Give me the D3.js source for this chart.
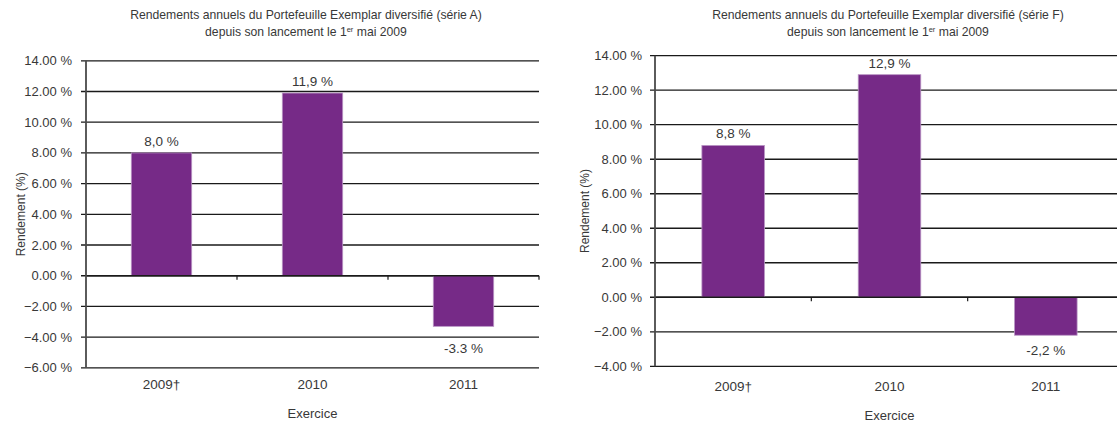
<!DOCTYPE html>
<html>
<head>
<meta charset="utf-8">
<script src="https://cdn.jsdelivr.net/npm/d3@7"></script>
<style>
  html, body { margin: 0; padding: 0; background: #fff; }
  svg { display: block; font-family: "Liberation Sans", Arial, sans-serif; }
</style>
</head>
<body>
<svg id="chart" width="1117" height="423"></svg>
<script>
// ---- data ----
const categories = ["2009\u2020", "2010", "2011"];
const valuesA = [8.0, 11.9, -3.3];
const valuesF = [8.8, 12.9, -2.2];
const labelsA = ["8,0 %", "11,9 %", "-3.3 %"];
const labelsF = ["8,8 %", "12,9 %", "-2,2 %"];
const ticksA = [-6, -4, -2, 0, 2, 4, 6, 8, 10, 12, 14];
const ticksF = [-4, -2, 0, 2, 4, 6, 8, 10, 12, 14];
const titleSeriesA = "Rendements annuels du Portefeuille Exemplar diversifié (série A)";
const titleSeriesF = "Rendements annuels du Portefeuille Exemplar diversifié (série F)";
const xTitle = "Exercice";
const yTitle = "Rendement (%)";

// ---- layout (styles/positions) ----
const BAR = "#762A87";
const BAR_EDGE = "#B994C4";
const GRID = "#1a1a1a";
const TXT = "#383838";

const svg = d3.select("#chart");

function drawChart(cfg) {
  const g = svg.append("g");
  const y = d3.scaleLinear()
    .domain([cfg.ticks[0], cfg.ticks[cfg.ticks.length - 1]])
    .range([cfg.yBottom, cfg.yTop]);
  const x = d3.scaleBand().domain(categories)
    .range([cfg.x0, cfg.x1]).paddingInner(0.6).paddingOuter(0.3);
  const step = x.step();

  // title
  const t = g.append("text")
    .attr("x", cfg.titleX).attr("text-anchor", "middle")
    .attr("font-size", 12.2).attr("fill", TXT);
  t.append("tspan").attr("x", cfg.titleX).attr("y", 19).text(cfg.title);
  const t2 = t.append("tspan").attr("x", cfg.titleX).attr("y", 35.5);
  t2.append("tspan").text("depuis son lancement le 1");
  t2.append("tspan").attr("font-size", 7.5).attr("dy", -4).text("er");
  t2.append("tspan").attr("dy", 4).text(" mai 2009");

  // gridlines with outward ticks
  g.append("g").selectAll("line").data(cfg.ticks).join("line")
    .attr("x1", cfg.x0 - 5).attr("x2", cfg.x1)
    .attr("y1", d => y(d)).attr("y2", d => y(d))
    .attr("stroke", GRID).attr("stroke-width", d => d === 0 ? 1.4 : 1.3);

  // y tick labels
  g.append("g").selectAll("text").data(cfg.ticks).join("text")
    .attr("x", cfg.x0 - cfg.labelGap).attr("y", d => y(d) + 4.5)
    .attr("text-anchor", "end").attr("font-size", 13).attr("fill", TXT)
    .text(d => d3.format(".2f")(d) + " %");

  // bars
  g.append("g").selectAll("rect").data(cfg.values).join("rect")
    .attr("x", (d, i) => x(categories[i]))
    .attr("width", x.bandwidth())
    .attr("y", d => y(Math.max(0, d)))
    .attr("height", d => Math.abs(y(d) - y(0)))
    .attr("fill", BAR).attr("stroke", BAR_EDGE).attr("stroke-width", 0.8);

  // zero line redraw over bars
  g.append("line").attr("x1", cfg.x0).attr("x2", cfg.x1)
    .attr("y1", y(0)).attr("y2", y(0))
    .attr("stroke", GRID).attr("stroke-width", 1.4);

  // category boundary ticks on zero line
  g.append("g").selectAll("line").data(categories).join("line")
    .attr("x1", (d) => x(d) + x.bandwidth() / 2 + step / 2)
    .attr("x2", (d) => x(d) + x.bandwidth() / 2 + step / 2)
    .attr("y1", y(0)).attr("y2", y(0) + 4)
    .attr("stroke", GRID).attr("stroke-width", 1.2);

  // y axis line
  g.append("line").attr("x1", cfg.x0).attr("x2", cfg.x0)
    .attr("y1", cfg.yTop).attr("y2", cfg.yBottom)
    .attr("stroke", "#4a4a4a").attr("stroke-width", 1.8);

  // data labels
  g.append("g").selectAll("text").data(cfg.values).join("text")
    .attr("x", (d, i) => x(categories[i]) + x.bandwidth() / 2)
    .attr("y", d => d >= 0 ? y(d) - 7 : y(d) + cfg.negLabelGap)
    .attr("text-anchor", "middle").attr("font-size", 13.5).attr("fill", TXT)
    .text((d, i) => cfg.labels[i]);

  // x category labels
  g.append("g").selectAll("text").data(categories).join("text")
    .attr("x", d => x(d) + x.bandwidth() / 2)
    .attr("y", cfg.catY)
    .attr("text-anchor", "middle").attr("font-size", 13.5).attr("fill", TXT)
    .text(d => d);

  // x title
  g.append("text").attr("x", (cfg.x0 + cfg.x1) / 2).attr("y", cfg.catY + 29)
    .attr("text-anchor", "middle").attr("font-size", 13).attr("fill", TXT)
    .text(xTitle);

  // y title
  const cy = (cfg.yTop + cfg.yBottom) / 2;
  g.append("text")
    .attr("transform", `translate(${cfg.yTitleX},${cy}) rotate(-90)`)
    .attr("text-anchor", "middle").attr("font-size", 12).attr("fill", TXT)
    .text(yTitle);
}

drawChart({
  title: titleSeriesA, values: valuesA, labels: labelsA, ticks: ticksA,
  x0: 86, x1: 539, yTop: 60.8, yBottom: 367.8,
  titleX: 306, labelGap: 14, catY: 389, yTitleX: 24.5, negLabelGap: 27
});
drawChart({
  title: titleSeriesF, values: valuesF, labels: labelsF, ticks: ticksF,
  x0: 655, x1: 1124, yTop: 55.7, yBottom: 366.3,
  titleX: 888, labelGap: 13, catY: 391, yTitleX: 589, negLabelGap: 20
});
</script>
</body>
</html>
